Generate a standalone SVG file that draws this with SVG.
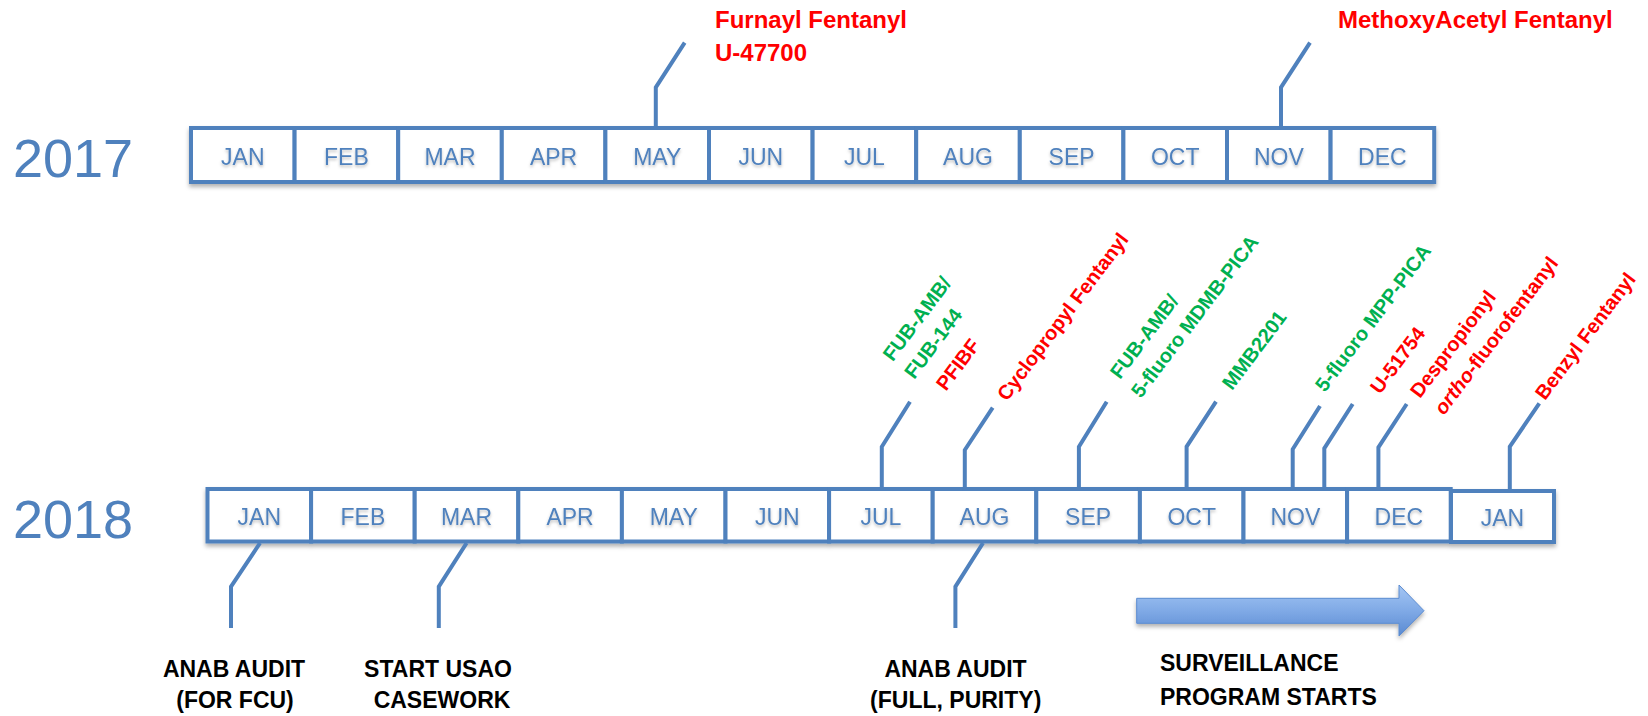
<svg xmlns="http://www.w3.org/2000/svg" width="1648" height="716" viewBox="0 0 1648 716">
<style>
.cell{fill:#fff;stroke:#4F81BD;stroke-width:4}
.mon{font-family:"Liberation Sans",Arial,sans-serif;font-size:23px;fill:#4F81BD;text-anchor:middle}
.year{font-family:"Liberation Sans",Arial,sans-serif;font-size:54px;fill:#4F81BD}
.conn{fill:none;stroke:#4F81BD;stroke-width:4;stroke-linejoin:miter}
.lbl{font-family:"Liberation Sans",Arial,sans-serif;font-weight:bold}
.red{fill:#FF0000}
.grn{fill:#00B050}
.blk{fill:#000;font-size:23px}
.top{font-size:24px}
.rot{font-size:20px}
.mid{text-anchor:middle}
</style>
<defs>
<filter id="sh" x="-5%" y="-20%" width="110%" height="160%">
<feDropShadow dx="0" dy="3" stdDeviation="2" flood-color="#000" flood-opacity="0.3"/>
</filter>
<filter id="tsh" x="-20%" y="-30%" width="140%" height="180%">
<feDropShadow dx="0" dy="2" stdDeviation="1.5" flood-color="#000" flood-opacity="0.25"/>
</filter>
<linearGradient id="ag" x1="0" y1="0" x2="0" y2="1">
<stop offset="0" stop-color="#a4c6f4"/>
<stop offset="0.5" stop-color="#80aae6"/>
<stop offset="1" stop-color="#5a8ad2"/>
</linearGradient>
</defs>
<rect width="1648" height="716" fill="#fff"/>

<g id="year-2017"><text class="year" x="13" y="177">2017</text></g>
<g id="year-2018"><text class="year" x="13" y="538">2018</text></g>

<g id="row-2017" filter="url(#sh)">
<g id="m2017-jan"><rect class="cell" x="191" y="128" width="103.6" height="54"/></g>
<g id="m2017-feb"><rect class="cell" x="294.6" y="128" width="103.6" height="54"/></g>
<g id="m2017-mar"><rect class="cell" x="398.2" y="128" width="103.6" height="54"/></g>
<g id="m2017-apr"><rect class="cell" x="501.8" y="128" width="103.6" height="54"/></g>
<g id="m2017-may"><rect class="cell" x="605.4" y="128" width="103.6" height="54"/></g>
<g id="m2017-jun"><rect class="cell" x="709" y="128" width="103.6" height="54"/></g>
<g id="m2017-jul"><rect class="cell" x="812.6" y="128" width="103.6" height="54"/></g>
<g id="m2017-aug"><rect class="cell" x="916.2" y="128" width="103.6" height="54"/></g>
<g id="m2017-sep"><rect class="cell" x="1019.8" y="128" width="103.6" height="54"/></g>
<g id="m2017-oct"><rect class="cell" x="1123.4" y="128" width="103.6" height="54"/></g>
<g id="m2017-nov"><rect class="cell" x="1227" y="128" width="103.6" height="54"/></g>
<g id="m2017-dec"><rect class="cell" x="1330.6" y="128" width="103.6" height="54"/></g>
</g>
<g id="labels-2017" filter="url(#tsh)">
<text class="mon" x="242.8" y="165">JAN</text>
<text class="mon" x="346.4" y="165">FEB</text>
<text class="mon" x="450" y="165">MAR</text>
<text class="mon" x="553.6" y="165">APR</text>
<text class="mon" x="657.2" y="165">MAY</text>
<text class="mon" x="760.8" y="165">JUN</text>
<text class="mon" x="864.4" y="165">JUL</text>
<text class="mon" x="968" y="165">AUG</text>
<text class="mon" x="1071.6" y="165">SEP</text>
<text class="mon" x="1175.2" y="165">OCT</text>
<text class="mon" x="1278.8" y="165">NOV</text>
<text class="mon" x="1382.4" y="165">DEC</text>
</g>

<g id="row-2018" filter="url(#sh)">
<g id="m2018-jan"><rect class="cell" x="207.5" y="489" width="103.6" height="52.5"/></g>
<g id="m2018-feb"><rect class="cell" x="311.1" y="489" width="103.6" height="52.5"/></g>
<g id="m2018-mar"><rect class="cell" x="414.7" y="489" width="103.6" height="52.5"/></g>
<g id="m2018-apr"><rect class="cell" x="518.3" y="489" width="103.6" height="52.5"/></g>
<g id="m2018-may"><rect class="cell" x="621.9" y="489" width="103.6" height="52.5"/></g>
<g id="m2018-jun"><rect class="cell" x="725.5" y="489" width="103.6" height="52.5"/></g>
<g id="m2018-jul"><rect class="cell" x="829.1" y="489" width="103.6" height="52.5"/></g>
<g id="m2018-aug"><rect class="cell" x="932.7" y="489" width="103.6" height="52.5"/></g>
<g id="m2018-sep"><rect class="cell" x="1036.3" y="489" width="103.6" height="52.5"/></g>
<g id="m2018-oct"><rect class="cell" x="1139.9" y="489" width="103.6" height="52.5"/></g>
<g id="m2018-nov"><rect class="cell" x="1243.5" y="489" width="103.6" height="52.5"/></g>
<g id="m2018-dec"><rect class="cell" x="1347.1" y="489" width="103.6" height="52.5"/></g>
<g id="m2019-jan"><rect class="cell" x="1451" y="491" width="103" height="51"/></g>
</g>
<g id="labels-2018" filter="url(#tsh)">
<text class="mon" x="259.3" y="525">JAN</text>
<text class="mon" x="362.9" y="525">FEB</text>
<text class="mon" x="466.5" y="525">MAR</text>
<text class="mon" x="570.1" y="525">APR</text>
<text class="mon" x="673.7" y="525">MAY</text>
<text class="mon" x="777.3" y="525">JUN</text>
<text class="mon" x="880.9" y="525">JUL</text>
<text class="mon" x="984.5" y="525">AUG</text>
<text class="mon" x="1088.1" y="525">SEP</text>
<text class="mon" x="1191.7" y="525">OCT</text>
<text class="mon" x="1295.3" y="525">NOV</text>
<text class="mon" x="1398.9" y="525">DEC</text>
<text class="mon" x="1502.5" y="526">JAN</text>
</g>

<g id="connectors">
<polyline class="conn" points="655.8,127 655.8,87.3 684.7,42.7"/>
<polyline class="conn" points="1281,127 1281,87.3 1310,42.7"/>
<polyline class="conn" points="881.8,488 881.8,446.7 910,401.7"/>
<polyline class="conn" points="964.8,491 964.8,450 992.7,407.7"/>
<polyline class="conn" points="1078.9,488 1078.9,446.7 1106.7,401.7"/>
<polyline class="conn" points="1186.6,488 1186.6,446.7 1216,401.7"/>
<polyline class="conn" points="1292.7,488 1292.7,449.3 1320,406"/>
<polyline class="conn" points="1324.3,488 1324.3,448.3 1352.7,404"/>
<polyline class="conn" points="1378.4,488 1378.4,447.3 1406.7,404"/>
<polyline class="conn" points="1509.8,490 1509.8,446.7 1539.3,403.3"/>
<polyline class="conn" points="260,543 231,586.7 231,628"/>
<polyline class="conn" points="466.6,543 438.8,586.7 438.8,628"/>
<polyline class="conn" points="983,543 955.4,586.7 955.4,628"/>
</g>

<g id="ev-2017-may"><text class="lbl red top" x="715" y="28">Furnayl Fentanyl</text><text class="lbl red top" x="715" y="61">U-47700</text></g>
<g id="ev-2017-nov"><text class="lbl red top" x="1338" y="28">MethoxyAcetyl Fentanyl</text></g>

<g id="ev-2018-jul">
<text class="lbl grn rot" transform="translate(892.7,362.3) rotate(-53)">FUB-AMB/</text>
<text class="lbl grn rot" transform="translate(914.3,380) rotate(-53)">FUB-144</text>
<text class="lbl red rot" transform="translate(946,391.7) rotate(-53)">PFIBF</text>
</g>
<g id="ev-2018-aug"><text class="lbl red rot" transform="translate(1007,402) rotate(-53)">Cyclopropyl Fentanyl</text></g>
<g id="ev-2018-sep">
<text class="lbl grn rot" transform="translate(1120,380) rotate(-53)">FUB-AMB/</text>
<text class="lbl grn rot" transform="translate(1141,399) rotate(-53)">5-fluoro MDMB-PICA</text>
</g>
<g id="ev-2018-oct"><text class="lbl grn rot" transform="translate(1232,391) rotate(-53)">MMB2201</text></g>
<g id="ev-2018-nov-a"><text class="lbl grn rot" transform="translate(1325,393) rotate(-53)">5-fluoro MPP-PICA</text></g>
<g id="ev-2018-nov-b"><text class="lbl red rot" transform="translate(1380,395) rotate(-53)">U-51754</text></g>
<g id="ev-2018-dec">
<text class="lbl red rot" transform="translate(1420,399) rotate(-53)">Despropionyl</text>
<text class="lbl red rot" transform="translate(1444,416) rotate(-53)"><tspan font-style="italic">ortho</tspan>-fluorofentanyl</text>
</g>
<g id="ev-2019-jan"><text class="lbl red rot" transform="translate(1545,401) rotate(-53)">Benzyl Fentanyl</text></g>

<g id="ev-anab1"><text class="lbl blk mid" x="234" y="677">ANAB AUDIT</text><text class="lbl blk mid" x="235" y="708">(FOR FCU)</text></g>
<g id="ev-usao"><text class="lbl blk mid" x="438" y="677">START USAO</text><text class="lbl blk mid" x="442" y="708">CASEWORK</text></g>
<g id="ev-anab2"><text class="lbl blk mid" x="955.5" y="677">ANAB AUDIT</text><text class="lbl blk mid" x="955.7" y="708">(FULL, PURITY)</text></g>

<g id="surveillance">
<path d="M1136.7,598.3 H1399 V585 L1424,610.7 L1399,636 V623.3 H1136.7 Z" fill="url(#ag)" stroke="#5b8bd0" stroke-width="1" filter="url(#sh)"/>
<text class="lbl blk" x="1160" y="671">SURVEILLANCE</text>
<text class="lbl blk" x="1160" y="705">PROGRAM STARTS</text>
</g>
</svg>
